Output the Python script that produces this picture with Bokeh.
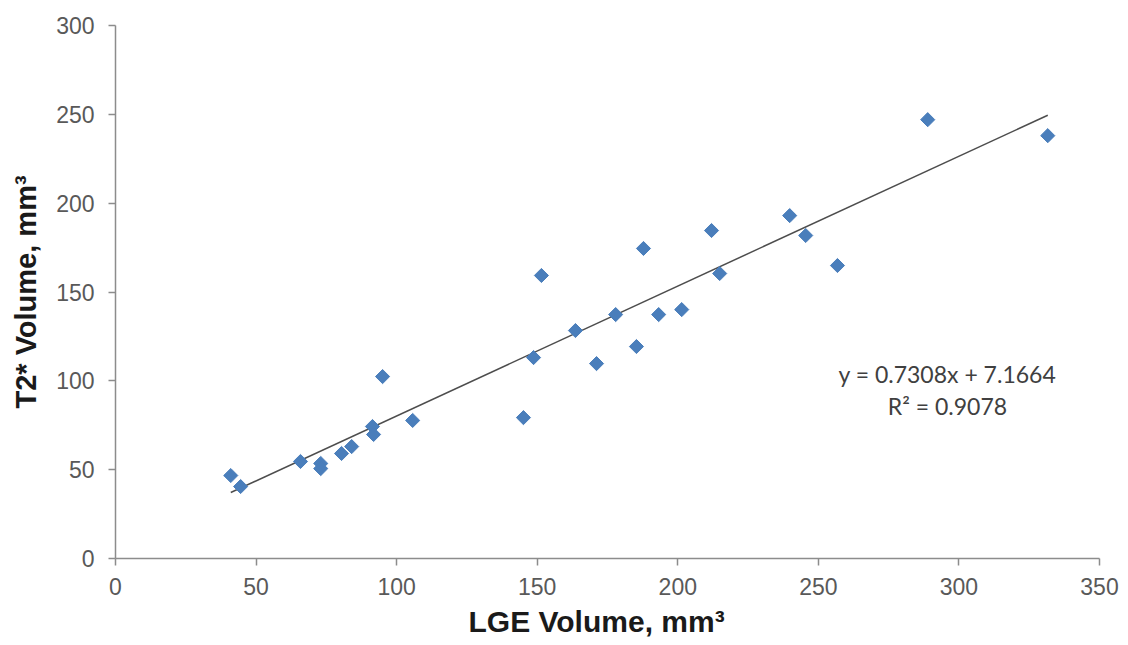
import numpy as np
from bokeh.plotting import figure
from bokeh.models import Range1d, FixedTicker, Label, Title
from bokeh.embed import file_html
from bokeh.resources import INLINE

# Data
lge_volume = [41.0, 44.5, 65.8, 73.0, 73.0, 80.4, 84.0, 91.4, 91.8, 95.0,
              105.7, 145.1, 148.7, 151.5, 163.6, 171.1, 177.9, 185.3, 187.8,
              193.2, 201.4, 212.0, 214.9, 239.8, 245.5, 256.8, 288.9, 331.6]
t2_volume = [46.7, 40.5, 54.6, 53.5, 50.6, 59.1, 63.0, 74.3, 69.8, 102.4,
             77.7, 79.3, 113.1, 159.3, 128.3, 109.7, 137.3, 119.3, 174.5,
             137.3, 140.1, 184.6, 160.4, 193.0, 181.8, 164.9, 247.0, 238.0]
slope = 0.7308
intercept = 7.1664
r_squared = 0.9078
x_ticks = [0, 50, 100, 150, 200, 250, 300, 350]
y_ticks = [0, 50, 100, 150, 200, 250, 300]

p = figure(output_backend="svg", toolbar_location=None,
           frame_width=984, frame_height=533,
           min_border_left=115, min_border_top=25, min_border_bottom=79, min_border_right=20,
           x_range=Range1d(0, 350), y_range=Range1d(0, 300))
p.outline_line_color = None
p.xgrid.visible = False
p.ygrid.visible = False

for ax in (p.xaxis[0], p.yaxis[0]):
    ax.axis_line_color = "#8c8c8c"
    ax.axis_line_width = 1.5
    ax.major_tick_line_color = "#8c8c8c"
    ax.major_tick_line_width = 1.5
    ax.major_tick_in = 0
    ax.major_tick_out = 7
    ax.minor_tick_line_color = None
    ax.major_label_text_font = "Liberation Sans"
    ax.major_label_text_font_size = "23px"
    ax.major_label_text_color = "#595959"
    ax.axis_label_text_font = "Liberation Sans"
    ax.axis_label_text_font_style = "bold"
    ax.axis_label_text_color = "#1a1a1a"

p.yaxis.axis_label_text_font_size = "29px"
p.xaxis.ticker = FixedTicker(ticks=x_ticks)
p.yaxis.ticker = FixedTicker(ticks=y_ticks)
p.yaxis.axis_label = "T2* Volume, mm³"
p.xaxis.major_label_standoff = 12
p.yaxis.major_label_standoff = 14
p.yaxis.axis_label_standoff = 11

x_title = Title(text="LGE Volume, mm³", align="left", offset=353,
                text_font="Liberation Sans", text_font_size="30px",
                text_font_style="bold", text_color="#1a1a1a", standoff=10)
p.add_layout(x_title, "below")

# trend line
xmin, xmax = min(lge_volume), max(lge_volume)
p.line([xmin, xmax], [slope * xmin + intercept, slope * xmax + intercept],
       line_color="#4d4d4d", line_width=1.5)

p.scatter(lge_volume, t2_volume, marker="square", angle=np.pi / 4, size=10,
          fill_color="#4a7ebb", line_color="#4a7ebb")

eq1 = Label(x=295.9, y=104.1, text=f"y = {slope}x + {intercept}",
            text_font="Lato", text_font_size="23px", text_color="#404040",
            text_align="center", text_baseline="middle")
eq2 = Label(x=295.9, y=85.6, text=f"R² = {r_squared}",
            text_font="Lato", text_font_size="23px", text_color="#404040",
            text_align="center", text_baseline="middle")
p.add_layout(eq1)
p.add_layout(eq2)

open("out.html", "w").write(file_html(p, INLINE))
